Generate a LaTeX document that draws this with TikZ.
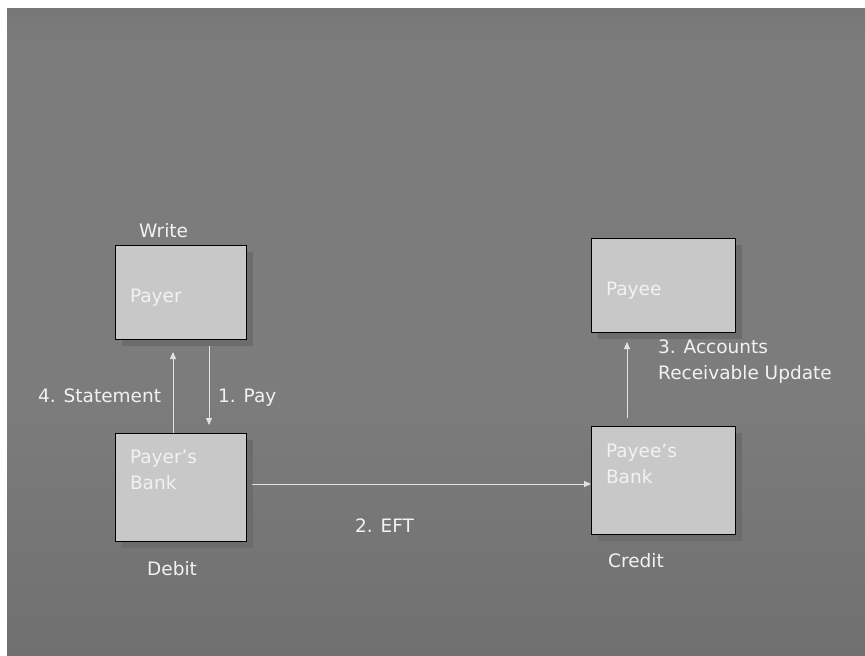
\documentclass[tikz,border=0pt]{standalone}
\usepackage{fontspec}
\setmainfont{DejaVu Sans}
\usetikzlibrary{arrows.meta, positioning, shadows}
\definecolor{slideTop}{RGB}{102,102,102}
\definecolor{slideMid}{RGB}{124,124,124}
\definecolor{slideBottom}{RGB}{104,104,104}
\definecolor{boxGrey}{RGB}{200,200,200}
\definecolor{shadowGrey}{RGB}{108,108,108}
\definecolor{lightText}{RGB}{242,242,242}
\definecolor{arrowGrey}{RGB}{226,226,226}
\pgfdeclareverticalshading{slidebg}{100bp}{color(0bp)=(slideBottom); color(12bp)=(slideBottom); color(45bp)=(slideMid); color(72bp)=(slideMid); color(86bp)=(slideTop); color(100bp)=(slideTop)}
\tikzset{
    partybox/.style={
        rectangle,
        draw=black,
        line width=0.8pt,
        fill=boxGrey,
        inner xsep=15pt,
        inner ysep=0pt,
        outer sep=0pt,
        align=left,
        text=lightText,
        font=\fontsize{18.5}{26}\selectfont,
        general shadow={fill=shadowGrey, shadow xshift=7pt, shadow yshift=-7pt}
    },
    lbltext/.style={
        inner sep=0pt,
        anchor=base west,
        align=left,
        text=lightText,
        font=\fontsize{18.5}{26}\selectfont
    },
    flowarrow/.style={-{Triangle[length=7pt, width=6pt]}, line width=0.9pt, draw=arrowGrey}
}
\begin{document}
\begin{tikzpicture}[x=1pt, y=-1pt, node distance=94pt]
    \useasboundingbox (0,0) rectangle (865,656);
    \shade[shading=slidebg] (7,8) rectangle (865,656);

    % parties and their banks
    \node[partybox, text width=101pt, text height=57pt, text depth=37pt] (payer) at (180.5,292) {Payer};
    \node[partybox, text width=101pt, text height=30pt, text depth=78pt, below=of payer] (payerbank) {Payer's\\Bank};
    \node[partybox, text width=114pt, text height=57pt, text depth=37pt] (payee) at (663,285) {Payee};
    \node[partybox, text width=114pt, text height=31pt, text depth=77pt, below=of payee] (payeebank) {Payee's\\Bank};

    % flows
    \draw[flowarrow] ([xshift=28.5pt, yshift=-7pt]payer.south) -- ([xshift=28.5pt, yshift=8pt]payerbank.north);
    \coordinate (eftstart) at ([xshift=6pt, yshift=3pt]payerbank.east);
    \draw[flowarrow] (eftstart) -- (eftstart -| payeebank.west);
    \draw[flowarrow] ([xshift=-36pt, yshift=8pt]payeebank.north) -- ([xshift=-36pt, yshift=-10pt]payee.south);
    \draw[flowarrow] ([xshift=-7.5pt]payerbank.north) -- ([xshift=-7.5pt, yshift=-13pt]payer.south);

    % captions
    \node[lbltext] (write) at (139,237) {Write};
    \node[lbltext] (debit) at (147,575) {Debit};
    \node[lbltext] (credit) at (608,567) {Credit};
    \node[lbltext] (pay) at (218,402) {1. Pay};
    \node[lbltext] (eft) at (355,532) {2. EFT};
    \node[lbltext] (accounts) at (658,379) {3. Accounts\\Receivable Update};
    \node[lbltext] (statement) at (38,402) {4. Statement};
\end{tikzpicture}
\end{document}
